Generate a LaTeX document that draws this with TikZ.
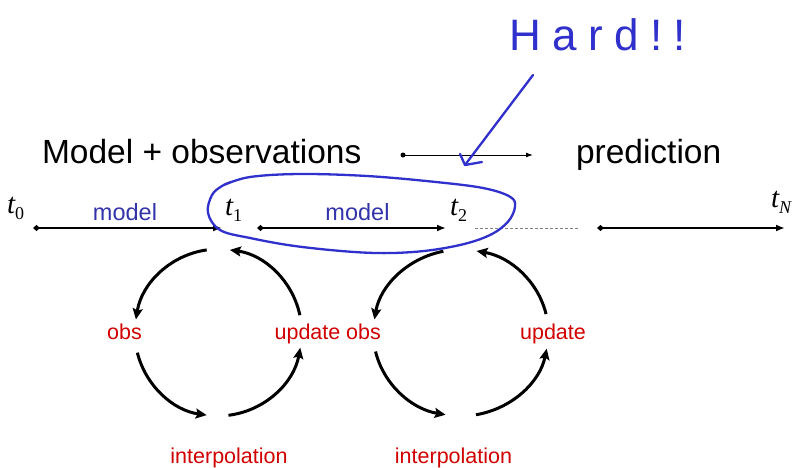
\documentclass[tikz,border=0pt]{standalone}
\usepackage{fontspec}
\setmainfont{Liberation Sans}
\newfontfamily\timesfont{Liberation Serif}
\newfontfamily\handfont[LetterSpace=26]{Liberation Sans}
\usetikzlibrary{arrows.meta}
\definecolor{modelblue}{RGB}{51,51,170}
\definecolor{handblue}{RGB}{48,48,205}
\definecolor{labred}{RGB}{210,0,0}
\newcommand\tlab[1]{{\timesfont\fontsize{29}{29}\selectfont\itshape t}\raisebox{-6pt}{\timesfont\fontsize{18}{18}\selectfont #1}}
\tikzset{
  txt/.style={inner sep=0pt, outer sep=0pt},
  bigtext/.style={txt, font=\fontsize{33.5}{34}\selectfont},
  modeltext/.style={txt, font=\fontsize{23.5}{24}\selectfont, text=modelblue, anchor=base},
  redtext/.style={txt, font=\fontsize{21.5}{22}\selectfont, text=labred, anchor=base},
  tlinestart/.style={line width=2.5pt, {Diamond[length=7pt,width=6pt]}-{Latex[length=9pt,width=7pt]}},
  cyc/.style={line width=3pt, -{Stealth[length=11pt,width=10pt,inset=2pt]}},
  hand/.style={line width=2.3pt, draw=handblue, line cap=round, line join=round},
}
\begin{document}
\begin{tikzpicture}[x=1pt,y=-1pt]
\useasboundingbox (0,0) rectangle (796,467);
\fill[white] (0,0) rectangle (796,467);

% title line
\node[bigtext, anchor=base west] (title) at (42,163) {Model + observations};
\node[bigtext, anchor=base west] (pred) at (576,163) {prediction};
\node[circle, fill=black, inner sep=0pt, minimum size=5pt] (sa) at (403,155) {};
\coordinate (sb) at (533,155);
\draw[line width=1pt, -{Latex[length=7pt,width=5pt]}] (sa.center) -- (sb);

% time labels
\node[txt, anchor=base west] (t0) at (7,213) {\tlab{0}};
\node[txt, anchor=base west] (t1) at (225,215) {\tlab{1}};
\node[txt, anchor=base west] (t2) at (450,215) {\tlab{2}};
\node[txt, anchor=base west] (tN) at (771,207) {\tlab{\itshape N}};

\node[modeltext] (m1) at (125,220) {model};
\node[modeltext] (m2) at (357.5,220) {model};

% timelines
\coordinate (a0) at (33,228);  \coordinate (a1) at (222,228);
\coordinate (b0) at (257,228); \coordinate (b1) at (446,228);
\coordinate (c0) at (475,228); \coordinate (c1) at (578,228);
\coordinate (d0) at (597,228); \coordinate (d1) at (785,228);
\draw[tlinestart] (a0) -- (a1);
\draw[tlinestart] (b0) -- (b1);
\draw[gray, line width=1pt, dash pattern=on 3pt off 2pt] (c0) -- (c1);
\draw[tlinestart] (d0) -- (d1);

% cycle 1
\coordinate (o1) at (218.3,332.5);
\path (o1) ++(-98:83.4) coordinate (p1a);
\path (o1) ++(-194:83.4) coordinate (p1b);
\path (o1) ++(-277:83.4) coordinate (p1c);
\path (o1) ++(-12:83.4) coordinate (p1d);
\draw[cyc] (p1a) arc[start angle=-98, end angle=-171, radius=83.4];
\draw[cyc] (p1b) arc[start angle=-194, end angle=-262, radius=83.4];
\draw[cyc] (p1c) arc[start angle=-277, end angle=-349.5, radius=83.4];
\draw[cyc] (p1d) arc[start angle=-12, end angle=-82, radius=83.4];
\node[redtext] (obs1) at (124.5,339) {obs};
\node[redtext] (up1) at (307.5,339) {update};
\node[redtext] (int1) at (229,463) {interpolation};

% cycle 2
\coordinate (o2) at (460.8,332.8);
\path (o2) ++(-101.5:87.5 and 83.2) coordinate (p2a);
\path (o2) ++(-193:87.5 and 83.2) coordinate (p2b);
\path (o2) ++(-280:87.5 and 83.2) coordinate (p2c);
\path (o2) ++(-13:87.5 and 83.2) coordinate (p2d);
\draw[cyc] (p2a) arc[start angle=-101.5, end angle=-170.8, x radius=87.5, y radius=83.2];
\draw[cyc] (p2b) arc[start angle=-193, end angle=-260, x radius=87.5, y radius=83.2];
\draw[cyc] (p2c) arc[start angle=-280, end angle=-349, x radius=87.5, y radius=83.2];
\draw[cyc] (p2d) arc[start angle=-13, end angle=-79.6, x radius=87.5, y radius=83.2];
\node[redtext] (obs2) at (363.5,339) {obs};
\node[redtext] (up2) at (553,339) {update};
\node[redtext] (int2) at (453.5,463) {interpolation};

% handwriting
\node[txt, anchor=base west, font=\handfont\fontsize{44}{44}\selectfont, text=handblue] (hard) at (509,50) {Hard!!};
\coordinate (ha) at (533,75);
\coordinate (hb) at (465,165);
\coordinate (hw1) at (460,154);
\coordinate (hw2) at (482,162);
\draw[hand] (ha) -- (hb);
\draw[hand] (hw1) -- (hb) -- (hw2);
\draw[hand] plot[smooth, tension=0.6] coordinates {(224,185) (250,177) (300,174) (367,176) (433,181.7) (483,188) (510,196.7) (515,206.7) (508,221.7) (490,235) (460,245) (416.7,251.7) (366.7,252.7) (300,246.7) (250,238) (220,230) (208,213) (212,195) (222,186) (231,182)};
\end{tikzpicture}
\end{document}
